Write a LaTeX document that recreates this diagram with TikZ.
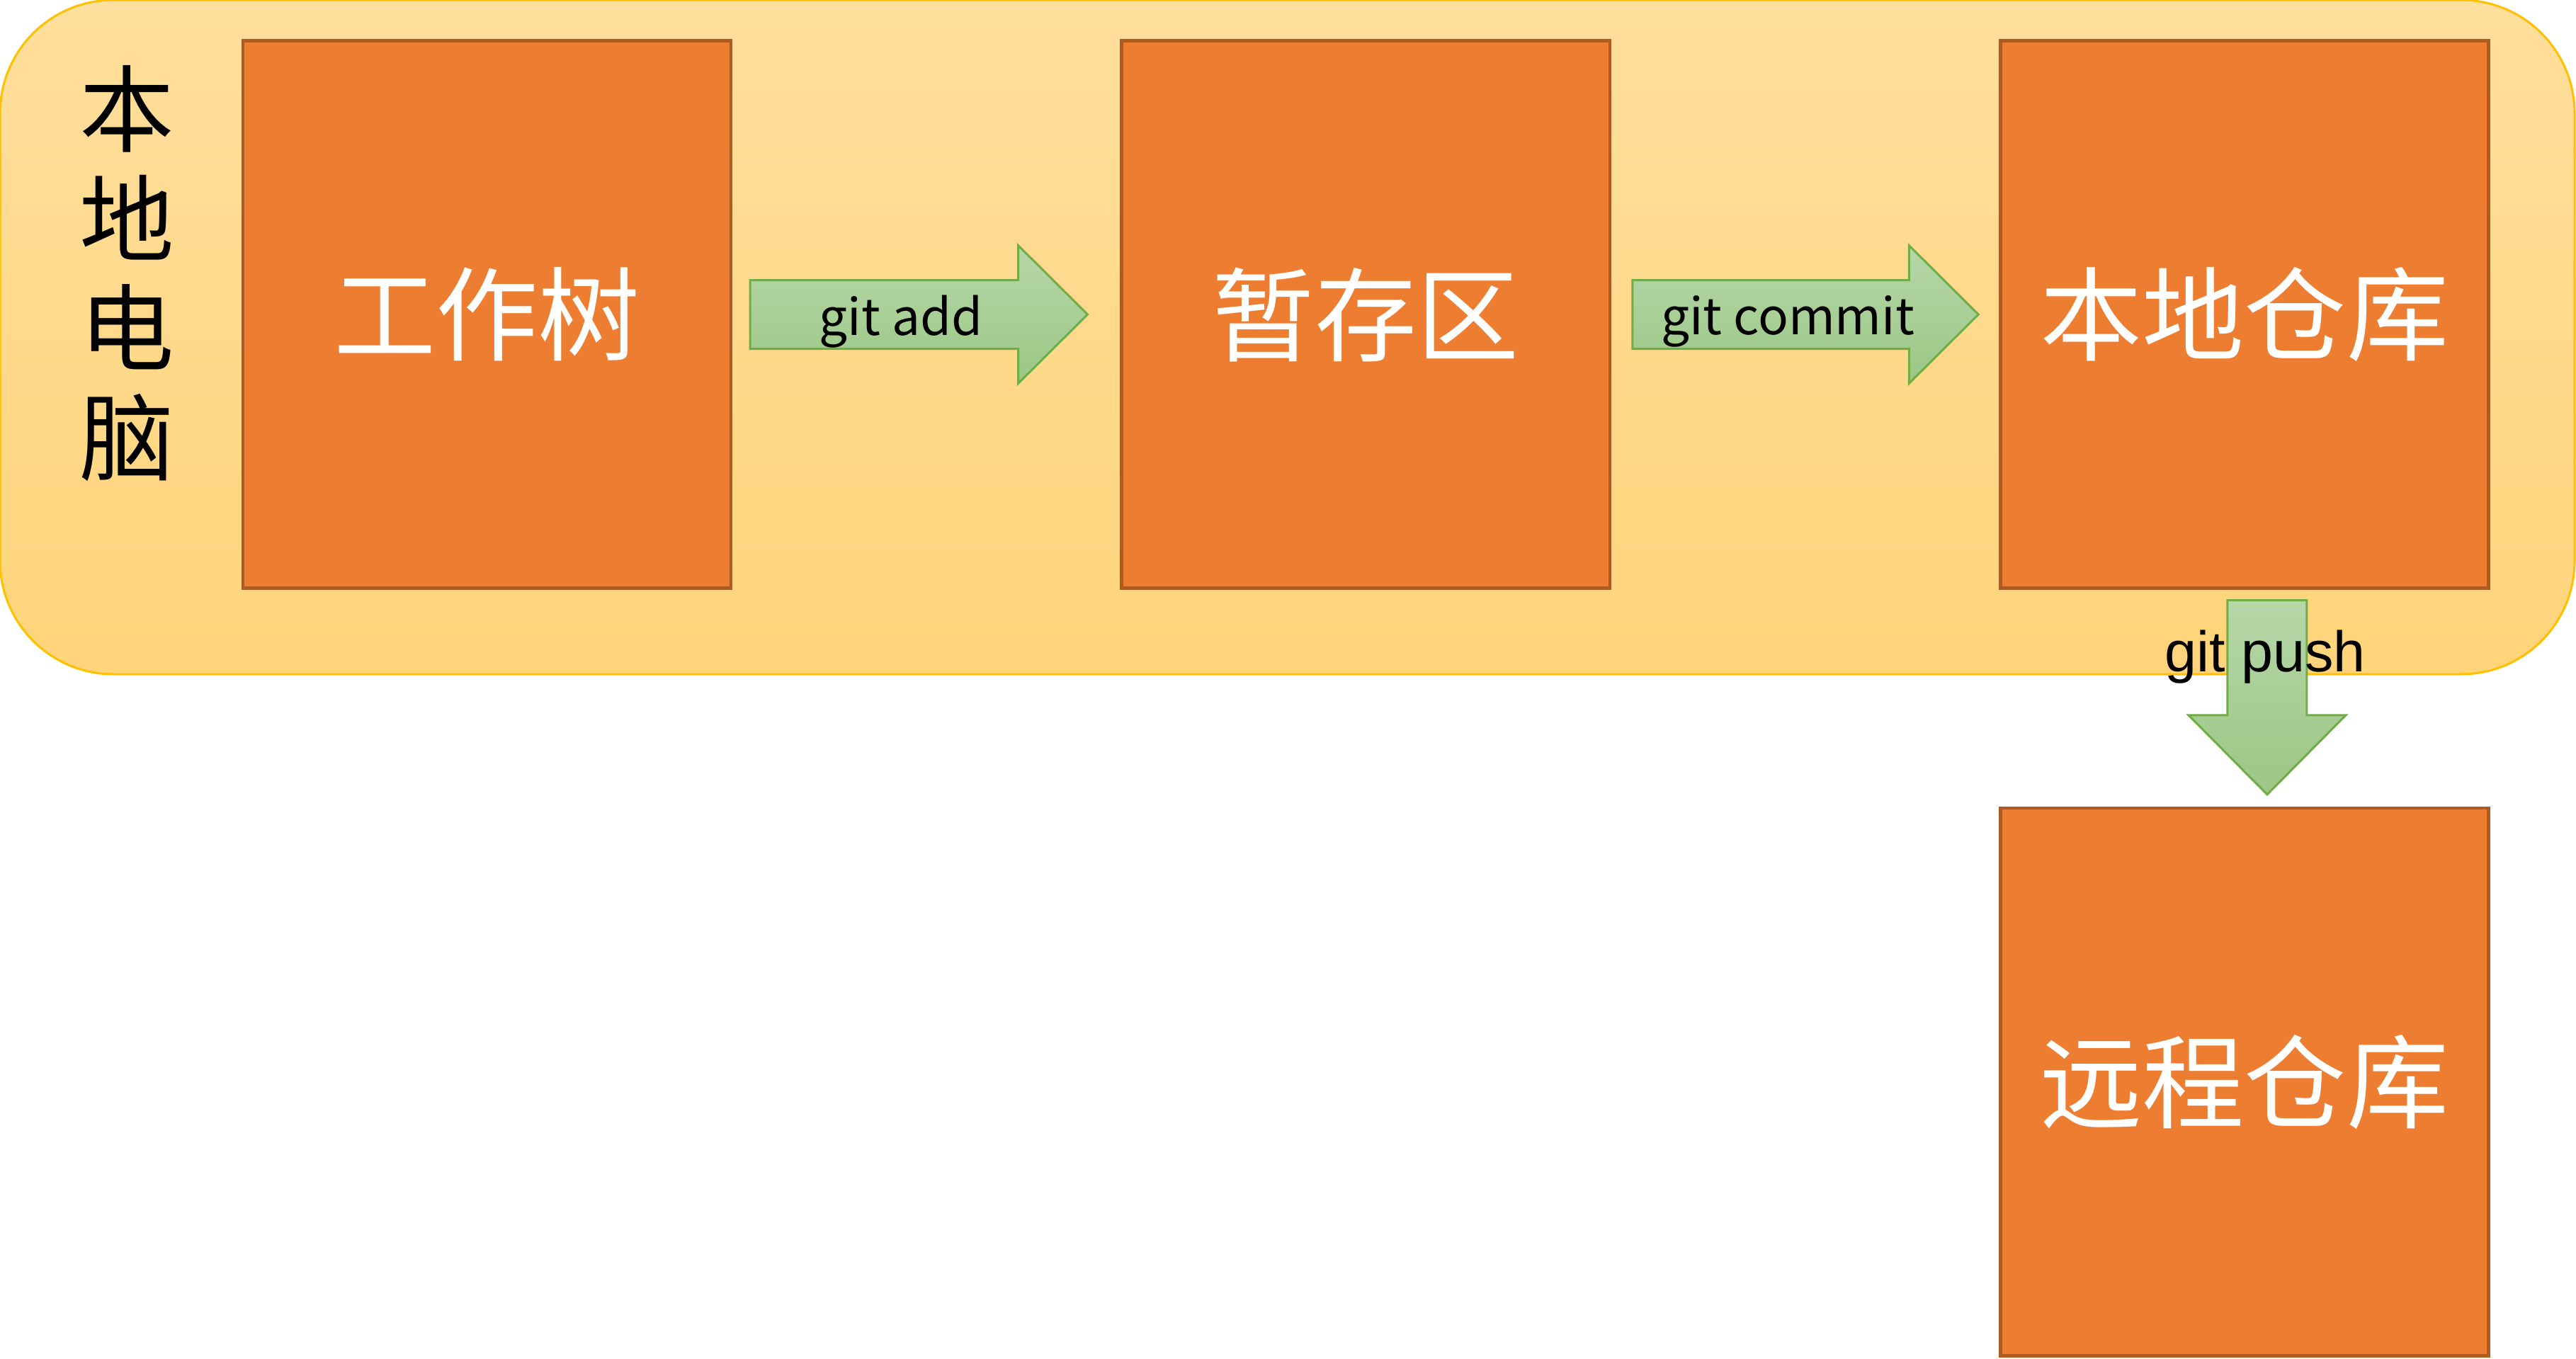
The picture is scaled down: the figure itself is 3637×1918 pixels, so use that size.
\documentclass[tikz,border=0pt]{standalone}
\usepackage{fontspec}
\setmainfont{Noto Sans CJK SC}
\newfontfamily\arialfont{Liberation Sans}
\usetikzlibrary{calc,positioning}

\definecolor{boxfill}{HTML}{ED7D31}
\definecolor{boxline}{HTML}{AE5A21}
\definecolor{pctop}{HTML}{FFDF9D}
\definecolor{pcbottom}{HTML}{FFD47A}
\definecolor{pcline}{HTML}{FFC000}
\definecolor{arrtop}{HTML}{B6D7A8}
\definecolor{arrbottom}{HTML}{9BC785}
\definecolor{arrline}{HTML}{70AD47}

\begin{document}
\begin{tikzpicture}[x=0.01cm, y=-0.01cm,
          area/.style={rounded corners=1.6cm, top color=pctop, bottom color=pcbottom, draw=pcline, line width=0.03cm},
          store/.style={fill=boxfill, draw=boxline, line width=0.045cm, minimum width=6.89cm, minimum height=7.73cm, inner sep=0pt, outer sep=0pt, text=white, font=\fontsize{41}{48}\selectfont},
          garrow/.style={top color=arrtop, bottom color=arrbottom, draw=arrline, line width=0.03cm},
          cmd/.style={inner sep=0pt, anchor=base, font=\fontsize{20.2}{24}\selectfont},
          node distance=5.51cm,
          ]

          \useasboundingbox (0,0) rectangle (3637,1918);
          \path[area] (0,0) rectangle (3635,952);

          \node[align=center, font=\fontsize{38}{44}\selectfont] (pc) at (179,386) {本\\地\\电\\脑};

          \node[store] (tree) at (687.5,444) {工作树};
          \node[store, right=of tree] (stage) {暂存区};
          \node[store, right=of stage] (repo) {本地仓库};
          \node[store, below=3.1cm of repo] (remote) {远程仓库};

          \coordinate (add0) at ($(tree.east)+(27,0)$);
          \coordinate (add1) at ($(stage.west)+(-48,0)$);
          \coordinate (com0) at ($(stage.east)+(32,0)$);
          \coordinate (com1) at ($(repo.west)+(-31,0)$);
          \coordinate (push0) at ($(repo.south)+(32,17)$);
          \coordinate (push1) at ($(remote.north)+(32,-19)$);

          \path[garrow] ($(add0)+(0,-48.5)$) -- ($(add1)+(-98,-48.5)$) -- ($(add1)+(-98,-97.5)$) -- (add1)
                -- ($(add1)+(-98,97.5)$) -- ($(add1)+(-98,48.5)$) -- ($(add0)+(0,48.5)$) -- cycle;
          \path[garrow] ($(com0)+(0,-48.5)$) -- ($(com1)+(-98,-48.5)$) -- ($(com1)+(-98,-97.5)$) -- (com1)
                -- ($(com1)+(-98,97.5)$) -- ($(com1)+(-98,48.5)$) -- ($(com0)+(0,48.5)$) -- cycle;
          \path[garrow] ($(push0)+(-56,0)$) -- ($(push1)+(-56,-112)$) -- ($(push1)+(-111,-112)$) -- (push1)
                -- ($(push1)+(111,-112)$) -- ($(push1)+(56,-112)$) -- ($(push0)+(56,0)$) -- cycle;

          \node[cmd] (addtxt) at (1272,473) {git add};
          \node[cmd] (comtxt) at (2524,472) {git commit};
          \node[cmd, font=\arialfont\fontsize{23}{28}\selectfont] (pushtxt) at (3198,948) {git push};

        \end{tikzpicture}
\end{document}
